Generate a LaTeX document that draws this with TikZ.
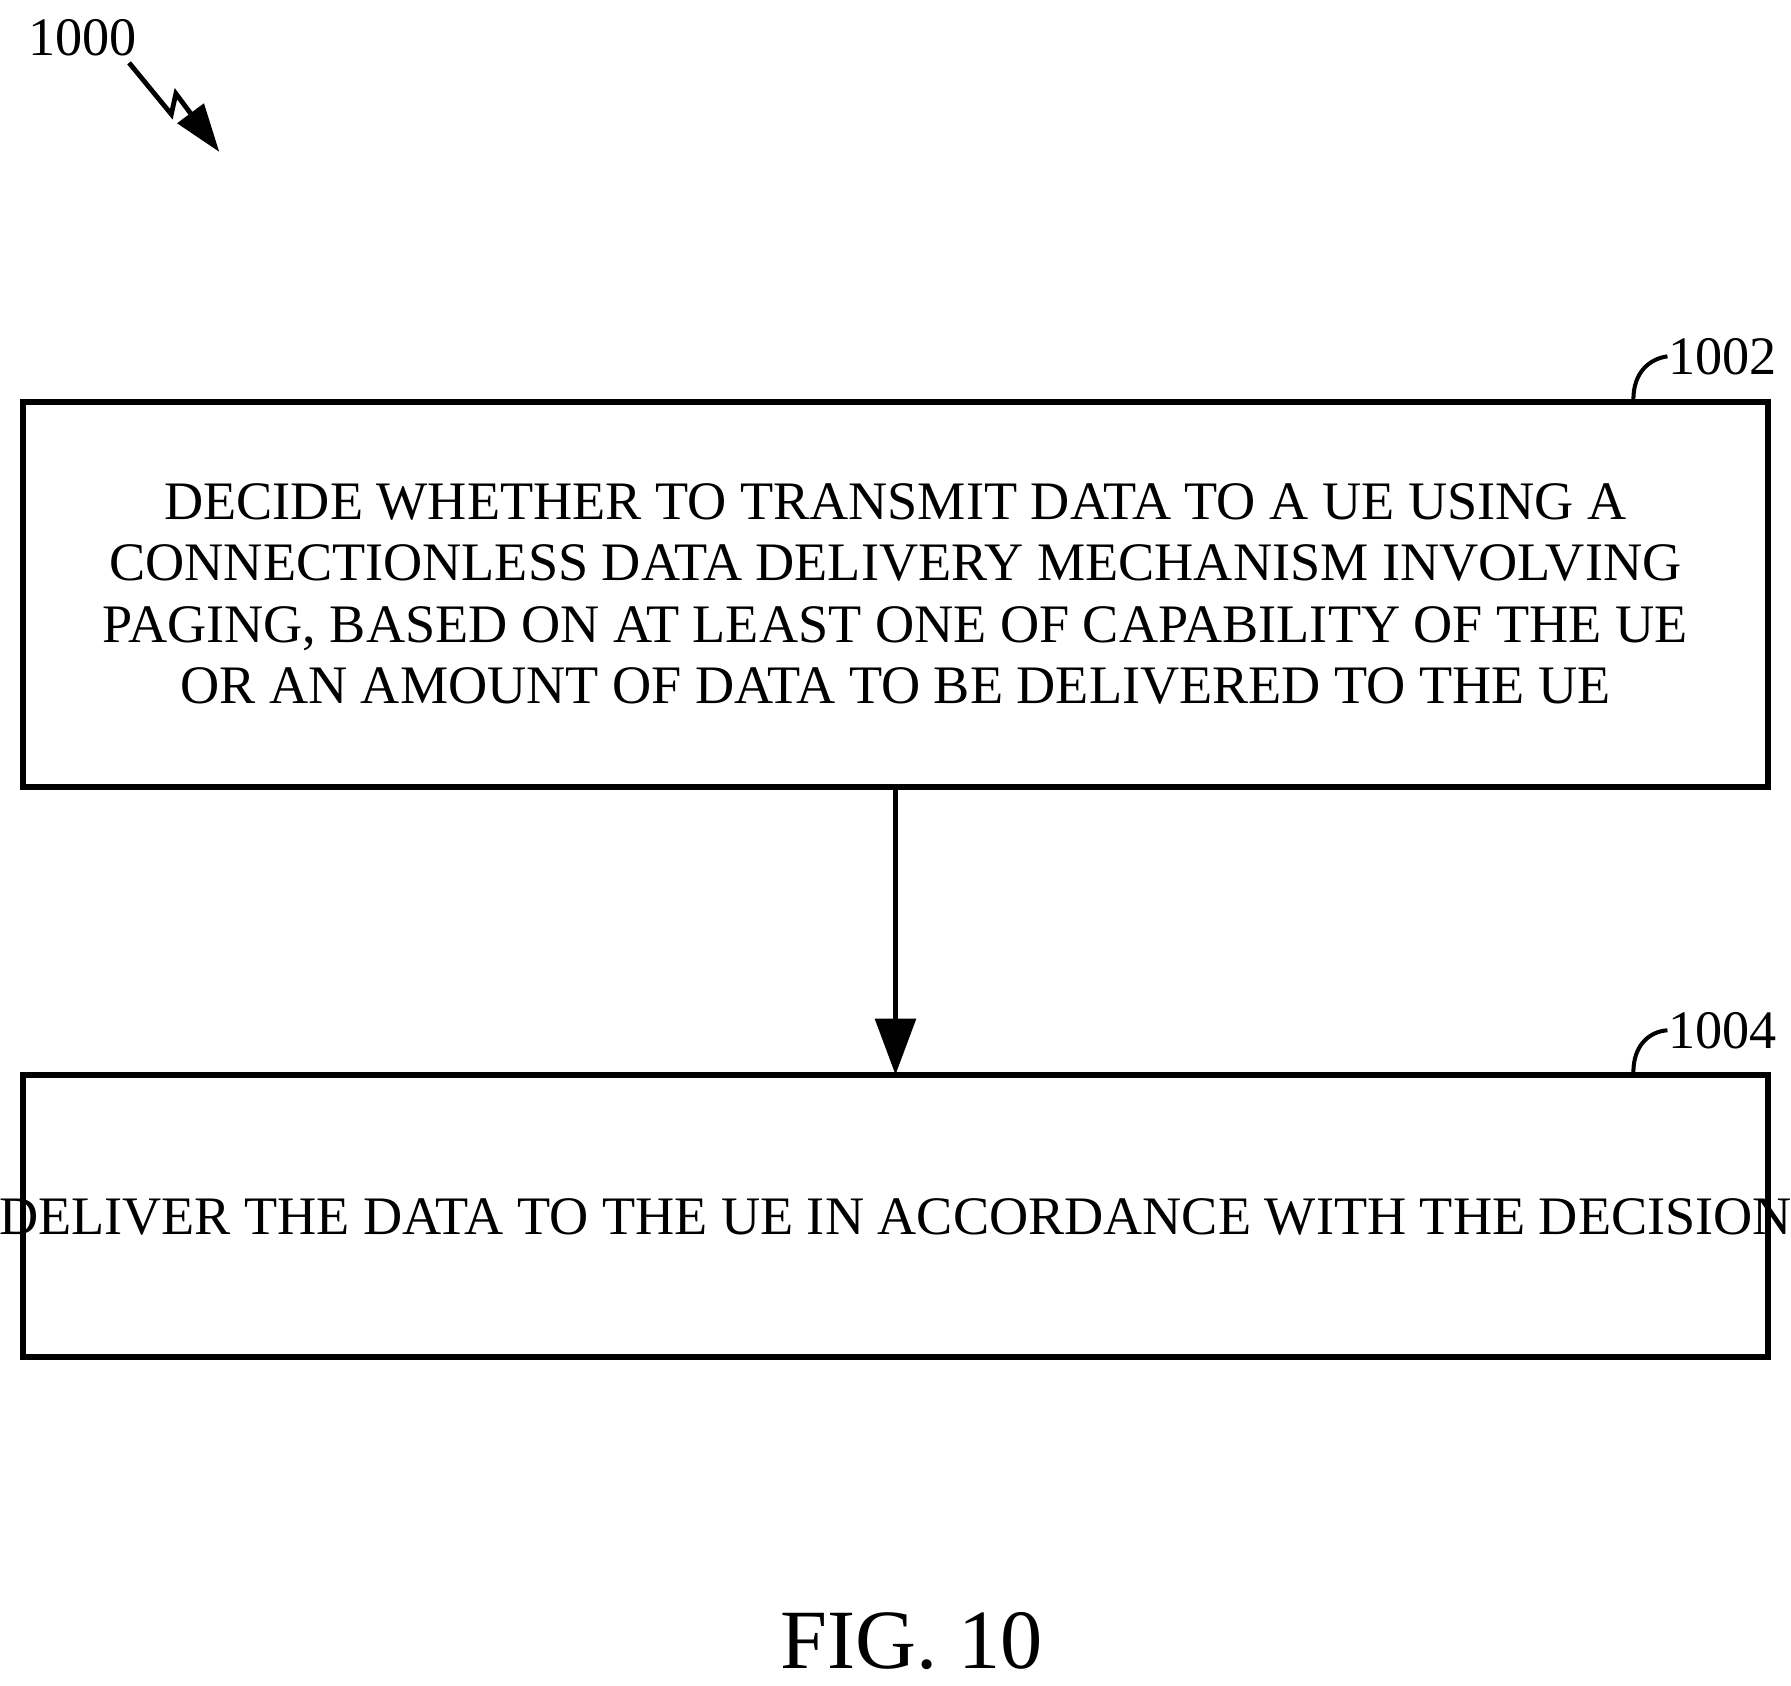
\documentclass[tikz,border=0pt]{standalone}
\usepackage{fontspec}
\setmainfont{Liberation Serif}
\usetikzlibrary{arrows.meta}
\begin{document}
\begin{tikzpicture}[x=0.01cm,y=-0.01cm,
  box/.style={draw,line width=1.4pt},
  txt/.style={font=\fontsize{13.5}{15.2}\selectfont,align=center},
  lbl/.style={font=\fontsize{13.5}{15}\selectfont,inner sep=0pt}]
\useasboundingbox (0,0) rectangle (1568,1476);
\draw[box] (20,352) rectangle (1548,689);
\draw[box] (20,941) rectangle (1548,1188);
\node[txt] (t1) at (784,520) {DECIDE WHETHER TO TRANSMIT DATA TO A UE USING A\\CONNECTIONLESS DATA DELIVERY MECHANISM INVOLVING\\PAGING, BASED ON AT LEAST ONE OF CAPABILITY OF THE UE\\OR AN AMOUNT OF DATA TO BE DELIVERED TO THE UE};
\node[txt] (t2) at (784,1065) {DELIVER THE DATA TO THE UE IN ACCORDANCE WITH THE DECISION};
\coordinate (a1) at (784,689); \coordinate (a2) at (784,941);
\draw[line width=1.4pt,-{Triangle[length=14pt,width=10pt]}] (a1) -- (a2);
\node[lbl] (l2) at (1508,312) {1002};
\node[lbl] (l4) at (1508,902) {1004};
\draw[line width=1pt] (1430,350) .. controls (1430,325) and (1445,314) .. (l2.west);
\draw[line width=1pt] (1430,939) .. controls (1430,914) and (1445,903) .. (l4.west);
\node[lbl] (l0) at (72,33) {1000};
\draw[line width=1.2pt,-{Triangle[length=12pt,width=8pt]}] (113,55) -- (150,100) -- (154,82) -- (192,133);
\node[font=\fontsize{21}{24}\selectfont] (fig) at (798,1437) {FIG. 10};
\end{tikzpicture}
\end{document}
